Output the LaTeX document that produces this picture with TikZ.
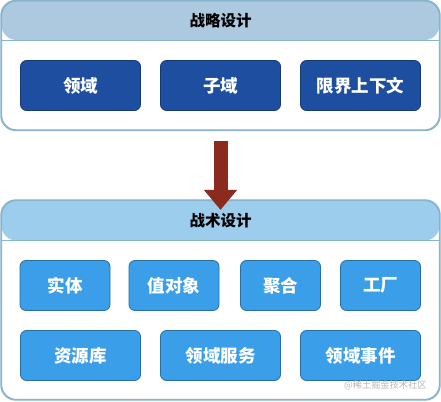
\documentclass[tikz,border=0pt]{standalone}
\usepackage{fontspec}
\setmainfont{Noto Sans CJK SC}
\newfontfamily\cjk{Noto Sans CJK SC}
\usetikzlibrary{arrows.meta}
\definecolor{topHead}{HTML}{ADC9E0}
\definecolor{botHead}{HTML}{9DCDEC}
\definecolor{frameLine}{HTML}{88B4CE}
\definecolor{darkBox}{HTML}{1D4E9F}
\definecolor{darkBoxLine}{HTML}{163A78}
\definecolor{lightBox}{HTML}{3A9EE9}
\definecolor{lightBoxLine}{HTML}{2A6EA6}
\definecolor{arrowRed}{HTML}{8A2B1E}
\tikzset{
  container/.style={draw=frameLine, line width=1.2pt, fill=white, rounded corners=15pt,
    minimum width=438pt, minimum height=129pt, inner sep=0pt},
  darkbox/.style={draw=darkBoxLine, line width=0.8pt, fill=darkBox, rounded corners=6pt,
    minimum height=50pt, text=white, font=\cjk\fontsize{17.5}{17.5}\selectfont\bfseries, inner sep=0pt},
  lightbox/.style={draw=lightBoxLine, line width=0.8pt, fill=lightBox, rounded corners=6pt,
    minimum height=50pt, text=white, font=\cjk\fontsize{17.5}{17.5}\selectfont\bfseries, inner sep=0pt},
  headtext/.style={font=\cjk\fontsize{15.5}{15.5}\selectfont\bfseries, text=black},
  bigarrow/.style={line width=14pt, draw=arrowRed, -{Triangle[width=32pt,length=20pt]}},
}
\begin{document}
\begin{tikzpicture}[x=1pt,y=-1pt]
\useasboundingbox (0,0) rectangle (441,401);
% top container
\node[container, minimum height=129pt,
  path picture={\fill[topHead] (path picture bounding box.north west) rectangle ([yshift=-39pt]path picture bounding box.north east);
  \draw[frameLine, line width=0.8pt] ([yshift=-39pt]path picture bounding box.north west) -- ([yshift=-39pt]path picture bounding box.north east);}]
  (top) at (220.5,65.5) {};
\draw[frameLine, line width=1.2pt, rounded corners=15pt] (top.north west) rectangle (top.south east);
\node[headtext] (topTitle) at (220.5,21) {战略设计};
\node[darkbox, minimum width=120pt] (ly) at (80.5,85.5) {领域};
\node[darkbox, minimum width=120pt] (zy) at (220.5,85.5) {子域};
\node[darkbox, minimum width=120pt] (xj) at (360.5,85.5) {限界上下文};
% bottom container
\node[container, minimum height=199pt,
  path picture={\fill[botHead] (path picture bounding box.north west) rectangle ([yshift=-40pt]path picture bounding box.north east);
  \draw[frameLine, line width=0.8pt] ([yshift=-40pt]path picture bounding box.north west) -- ([yshift=-40pt]path picture bounding box.north east);}]
  (bot) at (220.5,300) {};
\draw[frameLine, line width=1.2pt, rounded corners=15pt] (bot.north west) rectangle (bot.south east);
\node[headtext] (botTitle) at (220.5,221) {战术设计};
\node[lightbox, minimum width=90pt] (st) at (65,285.5) {实体};
\node[lightbox, minimum width=90pt] (zdx) at (174,285.5) {值对象};
\node[lightbox, minimum width=80pt] (jh) at (280.5,285.5) {聚合};
\node[lightbox, minimum width=80pt] (gc) at (380.5,285.5) {工厂};
\node[lightbox, minimum width=120pt] (zyk) at (80.5,355.5) {资源库};
\node[lightbox, minimum width=120pt] (lyfw) at (220.5,355.5) {领域服务};
\node[lightbox, minimum width=120pt] (lysj) at (360.5,355.5) {领域事件};
\node[font=\cjk\fontsize{9.2}{9.2}\selectfont, text=black!28, anchor=east] (wm) at (430,385) {@稀土掘金技术社区};
% arrow
\draw[bigarrow] ([yshift=-10pt]top.south) -- ([yshift=-10pt]bot.north);
\end{tikzpicture}
\end{document}
